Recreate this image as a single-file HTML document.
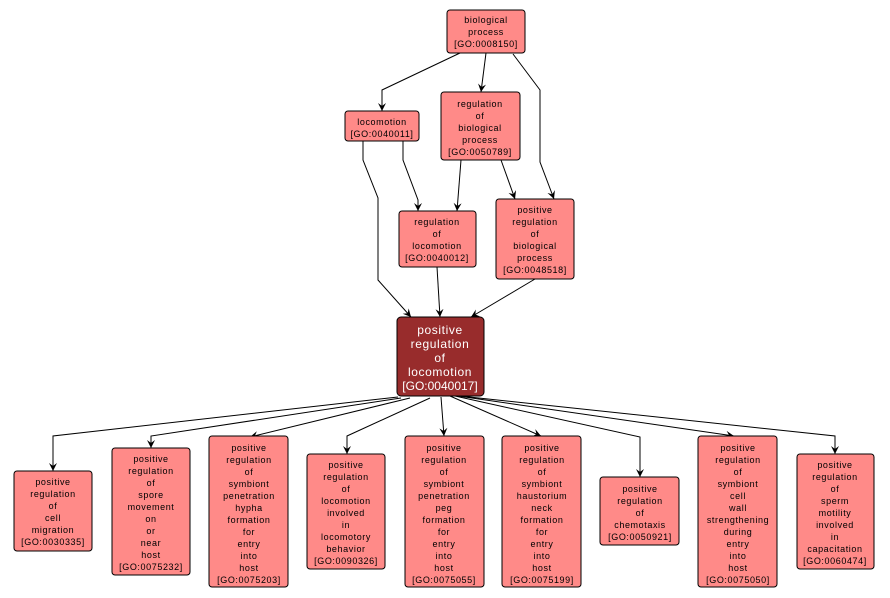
<!DOCTYPE html>
<html><head><meta charset="utf-8"><style>
body{margin:0;background:#fff}
svg{display:block}
text{font-family:"Liberation Sans",sans-serif;font-size:9px;letter-spacing:0.6px;text-anchor:middle;fill:#000}
.n{fill:#ff8a88;stroke:#000;stroke-width:1}
.e{fill:none;stroke:#000;stroke-width:1}
</style></head><body>
<svg width="890" height="598" viewBox="0 0 890 598">
<defs><marker id="a" markerWidth="10" markerHeight="10" refX="8" refY="4" orient="auto" markerUnits="userSpaceOnUse"><path d="M0,0 L8,4 L0,8 L3,4 z" fill="#000"/></marker></defs>
<g class="e" marker-end="url(#a)">
<polyline points="460,53 382,90 382,111"/>
<polyline points="486,53 481,92"/>
<polyline points="513,54 540,90 540,162 554,199"/>
<polyline points="403,141 403,160 418,200 418,211"/>
<polyline points="363,141 363,160 378,198 378,280 411,317"/>
<polyline points="461,160 457,211"/>
<polyline points="501,160 515,199"/>
<polyline points="437,267 440,317"/>
<polyline points="535,279 471,317"/>
<polyline points="398,397 53,436 53,471"/>
<polyline points="401,398 151,436 151,448"/>
<polyline points="410,398 250,437"/>
<polyline points="430,398 347,436 347,454"/>
<polyline points="441,397 444,436"/>
<polyline points="450,396 541,436"/>
<polyline points="455,396 640,437 640,477"/>
<polyline points="458,396 734,436"/>
<polyline points="460,396 835,436 835,454"/>
</g>
<rect class="n" x="447" y="10" width="78" height="43" rx="3"/>
<text x="486" y="23">biological</text><text x="486" y="35">process</text><text x="486" y="47">[GO:0008150]</text>
<rect class="n" x="345" y="111" width="74" height="30" rx="3"/>
<text x="382" y="125">locomotion</text><text x="382" y="137">[GO:0040011]</text>
<rect class="n" x="441" y="92" width="79" height="68" rx="3"/>
<text x="480" y="107">regulation</text><text x="480" y="119">of</text><text x="480" y="131">biological</text><text x="480" y="143">process</text><text x="480" y="155">[GO:0050789]</text>
<rect class="n" x="399" y="211" width="77" height="56" rx="3"/>
<text x="437" y="225">regulation</text><text x="437" y="237">of</text><text x="437" y="249">locomotion</text><text x="437" y="261">[GO:0040012]</text>
<rect class="n" x="496" y="199" width="78" height="80" rx="3"/>
<text x="535" y="213">positive</text><text x="535" y="225">regulation</text><text x="535" y="237">of</text><text x="535" y="249">biological</text><text x="535" y="261">process</text><text x="535" y="273">[GO:0048518]</text>
<rect x="397" y="317" width="87" height="79" rx="4" fill="#982c2c" stroke="#000"/>
<g style="font-size:12px;fill:#fff;letter-spacing:0"><text x="440" y="334" style="fill:#fff;font-size:12px">positive</text><text x="440" y="348" style="fill:#fff;font-size:12px">regulation</text><text x="440" y="362" style="fill:#fff;font-size:12px">of</text><text x="440" y="376" style="fill:#fff;font-size:12px">locomotion</text><text x="440" y="390" style="fill:#fff;font-size:12px;letter-spacing:0">[GO:0040017]</text></g>

<rect class="n" x="14" y="471" width="78" height="80" rx="3"/>
<text x="53" y="485">positive</text><text x="53" y="497">regulation</text><text x="53" y="509">of</text><text x="53" y="521">cell</text><text x="53" y="533">migration</text><text x="53" y="545">[GO:0030335]</text>

<rect class="n" x="112" y="448" width="78" height="127" rx="3"/>
<text x="151" y="462">positive</text><text x="151" y="474">regulation</text><text x="151" y="486">of</text><text x="151" y="498">spore</text><text x="151" y="510">movement</text><text x="151" y="522">on</text><text x="151" y="534">or</text><text x="151" y="546">near</text><text x="151" y="558">host</text><text x="151" y="570">[GO:0075232]</text>

<rect class="n" x="209" y="436" width="79" height="151" rx="3"/>
<text x="249" y="451">positive</text><text x="249" y="463">regulation</text><text x="249" y="475">of</text><text x="249" y="487">symbiont</text><text x="249" y="499">penetration</text><text x="249" y="511">hypha</text><text x="249" y="523">formation</text><text x="249" y="535">for</text><text x="249" y="547">entry</text><text x="249" y="559">into</text><text x="249" y="571">host</text><text x="249" y="583">[GO:0075203]</text>

<rect class="n" x="307" y="454" width="78" height="115" rx="3"/>
<text x="346" y="468">positive</text><text x="346" y="480">regulation</text><text x="346" y="492">of</text><text x="346" y="504">locomotion</text><text x="346" y="516">involved</text><text x="346" y="528">in</text><text x="346" y="540">locomotory</text><text x="346" y="552">behavior</text><text x="346" y="564">[GO:0090326]</text>

<rect class="n" x="405" y="436" width="79" height="151" rx="3"/>
<text x="444" y="451">positive</text><text x="444" y="463">regulation</text><text x="444" y="475">of</text><text x="444" y="487">symbiont</text><text x="444" y="499">penetration</text><text x="444" y="511">peg</text><text x="444" y="523">formation</text><text x="444" y="535">for</text><text x="444" y="547">entry</text><text x="444" y="559">into</text><text x="444" y="571">host</text><text x="444" y="583">[GO:0075055]</text>

<rect class="n" x="502" y="436" width="79" height="151" rx="3"/>
<text x="542" y="451">positive</text><text x="542" y="463">regulation</text><text x="542" y="475">of</text><text x="542" y="487">symbiont</text><text x="542" y="499">haustorium</text><text x="542" y="511">neck</text><text x="542" y="523">formation</text><text x="542" y="535">for</text><text x="542" y="547">entry</text><text x="542" y="559">into</text><text x="542" y="571">host</text><text x="542" y="583">[GO:0075199]</text>

<rect class="n" x="600" y="477" width="79" height="68" rx="3"/>
<text x="640" y="492">positive</text><text x="640" y="504">regulation</text><text x="640" y="516">of</text><text x="640" y="528">chemotaxis</text><text x="640" y="540">[GO:0050921]</text>

<rect class="n" x="698" y="436" width="79" height="151" rx="3"/>
<text x="738" y="451">positive</text><text x="738" y="463">regulation</text><text x="738" y="475">of</text><text x="738" y="487">symbiont</text><text x="738" y="499">cell</text><text x="738" y="511">wall</text><text x="738" y="523">strengthening</text><text x="738" y="535">during</text><text x="738" y="547">entry</text><text x="738" y="559">into</text><text x="738" y="571">host</text><text x="738" y="583">[GO:0075050]</text>

<rect class="n" x="797" y="454" width="77" height="115" rx="3"/>
<text x="835" y="468">positive</text><text x="835" y="480">regulation</text><text x="835" y="492">of</text><text x="835" y="504">sperm</text><text x="835" y="516">motility</text><text x="835" y="528">involved</text><text x="835" y="540">in</text><text x="835" y="552">capacitation</text><text x="835" y="564">[GO:0060474]</text>
</svg>
</body></html>
